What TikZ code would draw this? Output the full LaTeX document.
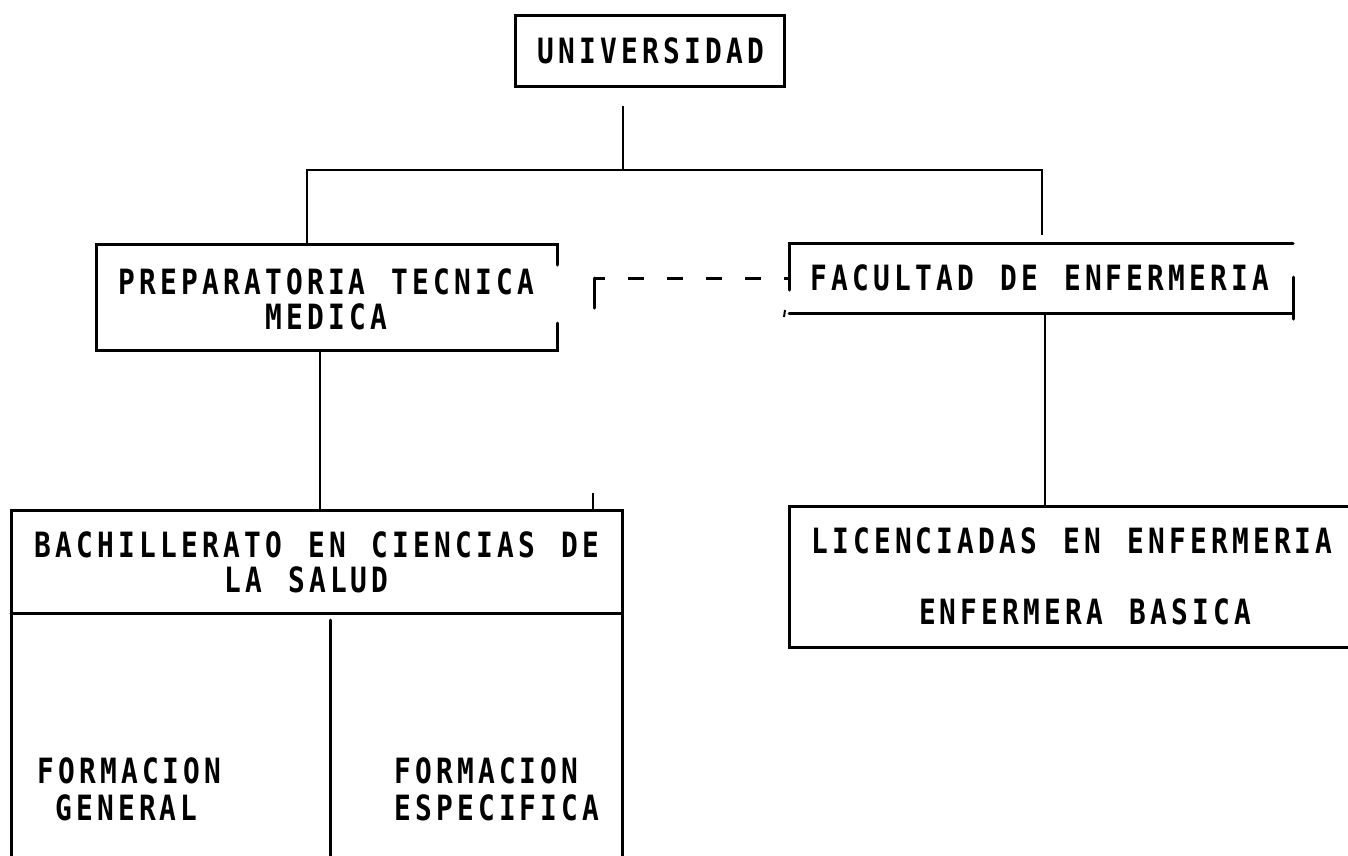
\documentclass[tikz,border=0pt]{standalone}
\usepackage{fontspec}
\newfontfamily\chartfont[FakeStretch=0.8,LetterSpace=12,WordSpace=1.25,BoldFont={DejaVu Sans Mono Bold}]{DejaVu Sans Mono Bold}
\usetikzlibrary{calc}
\begin{document}
\begin{tikzpicture}[x=1pt,y=-1pt,
  frame/.style={draw=none,inner sep=0pt,outer sep=0pt},
  boxline/.style={line width=3pt,line cap=round,line join=miter},
  conn/.style={line width=2pt},
  dashline/.style={line width=3pt,dash pattern=on 16pt off 23pt,dash phase=5pt},
  lbl/.style={inner sep=0pt,outer sep=0pt,anchor=base,font=\chartfont\fontsize{34.8}{36}\selectfont}
]
\useasboundingbox (0,0) rectangle (1348,855);

% frames
\node[frame,minimum width=269pt,minimum height=71pt] (uni) at (649.5,50.5) {};
\node[frame,minimum width=461pt,minimum height=106pt] (prep) at (326.5,297) {};
\node[frame,minimum width=504pt,minimum height=70pt] (fac) at (1041,278) {};
\node[frame,minimum width=571pt,minimum height=141pt] (lic) at (1074.5,576.5) {};
\node[frame,minimum width=611pt,minimum height=360pt] (bach) at (316.5,690) {};

% borders
\draw[boxline] (uni.north west) rectangle (uni.south east);
\draw[boxline] ($(prep.north east)+(0,21)$) -- (prep.north east) -- (prep.north west)
  -- (prep.south west) -- (prep.south east) -- ($(prep.south east)+(0,-27)$);
\draw[boxline] ($(fac.north west)+(0,47)$) -- (fac.north west) -- (fac.north east);
\draw[boxline] (fac.south west) -- (fac.south east);
\draw[boxline] ($(fac.north east)+(0,34)$) -- ($(fac.south east)+(0,6)$);
\draw[conn] ($(fac.south west)+(-4,-3)$) -- ($(fac.south west)+(-5,4)$);
\draw[boxline] (lic.north east) -- (lic.north west) -- (lic.south west) -- (lic.south east);
\draw[boxline] (bach.south west) -- (bach.north west) -- (bach.north east) -- (bach.south east);
\draw[boxline] ($(bach.north west)+(0,103)$) -- ($(bach.north east)+(0,103)$);
\coordinate (coldiv) at ($(bach.north west)+(319,110)$);
\draw[boxline] (coldiv) -- (coldiv |- bach.south);

% connectors
\coordinate (uniDrop) at (623,106);
\coordinate (busC) at (623,170);
\coordinate (busL) at (307,170);
\coordinate (busR) at (1042,170);
\coordinate (busRend) at (1042,235);
\draw[conn] (uniDrop) -- (busC);
\draw[conn] (busL |- prep.north) -- (busL) -- (busR) -- (busRend);
\coordinate (pb) at (320,350);
\draw[conn] (pb) -- (pb |- bach.north);
\coordinate (fl) at (1045,313);
\draw[conn] (fl) -- (fl |- lic.north);
\coordinate (dstart) at (594,308);
\coordinate (dcorner) at (594,278);
\draw[boxline] (dstart) -- (dcorner);
\draw[dashline] (dcorner) -- (dcorner -| fac.west);
\coordinate (tick) at (593,493);
\draw[conn] (tick) -- (tick |- bach.north);

% texts
\node[lbl] (uniT) at (651,63) {UNIVERSIDAD};
\node[lbl] (prepT1) at (326.5,294.5) {PREPARATORIA TECNICA};
\node[lbl] (prepT2) at (326.5,329.5) {MEDICA};
\node[lbl] (facT) at (1040,290) {FACULTAD DE ENFERMERIA};
\node[lbl] (licT1) at (1072,553) {LICENCIADAS EN ENFERMERIA};
\node[lbl] (licT2) at (1085,624) {ENFERMERA BASICA};
\node[lbl] (bachT1) at (317,557.5) {BACHILLERATO EN CIENCIAS DE};
\node[lbl] (bachT2) at (306.5,592.5) {LA SALUD};
\node[lbl] (fgT1) at (129.5,783.5) {FORMACION};
\node[lbl] (fgT2) at (126.5,820.5) {GENERAL};
\node[lbl] (feT1) at (486.5,783.5) {FORMACION};
\node[lbl] (feT2) at (497,820.5) {ESPECIFICA};
\end{tikzpicture}
\end{document}
